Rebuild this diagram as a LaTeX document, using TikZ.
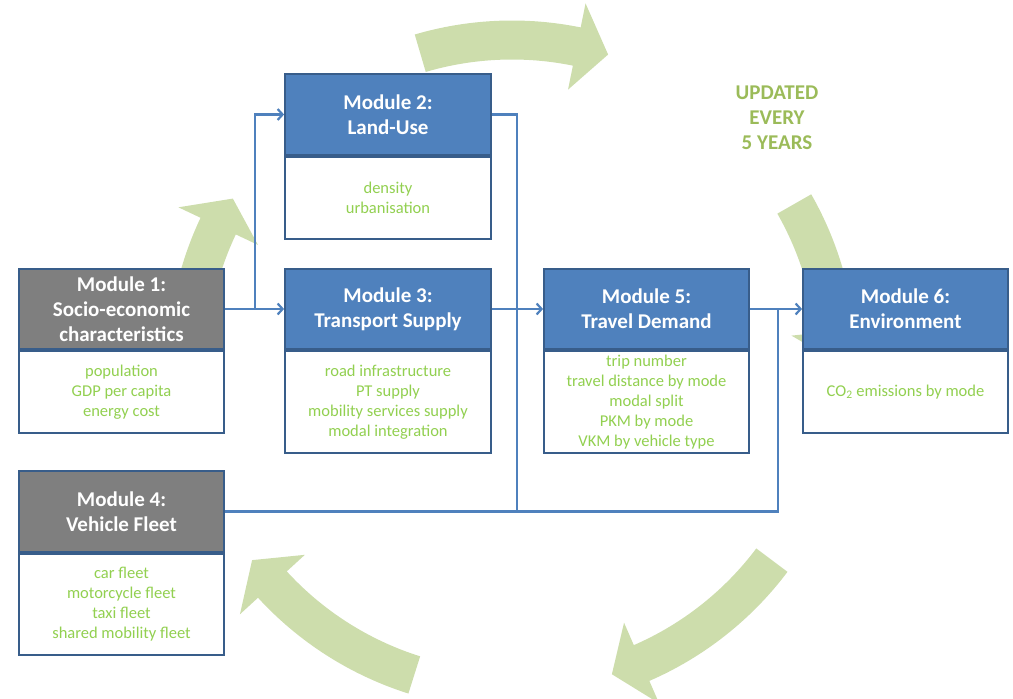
\documentclass[tikz,border=0pt]{standalone}
\usepackage{fontspec}
\setmainfont{Carlito}
\usetikzlibrary{calc,arrows.meta}
\definecolor{hblue}{HTML}{4F81BD}
\definecolor{bord}{HTML}{385D8A}
\definecolor{hgray}{HTML}{7F7F7F}
\definecolor{itemgreen}{HTML}{92D050}
\definecolor{olivetxt}{HTML}{9BBB59}
\definecolor{cycfill}{HTML}{CDDDAC}
\definecolor{linkblue}{HTML}{4F81BD}
\newcommand\cycarr[3]{%
 \fill[cycfill] ($(C)+(#1:344.5pt)$) arc[start angle=#1,end angle=#2,radius=344.5pt]
 -- ($(C)+(#2:369pt)$) -- ($(C)+(#3:325pt)$) -- ($(C)+(#2:281pt)$)
 -- ($(C)+(#2:305.5pt)$) arc[start angle=#2,end angle=#1,radius=305.5pt] -- cycle;}
\begin{document}
\begin{tikzpicture}[x=1pt,y=1pt,
 head/.style={draw=bord, line width=1.8pt, fill=hblue, text=white, minimum width=205pt, minimum height=80pt, inner sep=0pt, align=center, font=\fontsize{21}{25}\selectfont\bfseries},
 grayhead/.style={head, fill=hgray},
 bodybox/.style={draw=bord, line width=1.8pt, fill=white, text=itemgreen, minimum width=205pt, inner sep=0pt, anchor=north, align=center, font=\fontsize{16.5}{20}\selectfont},
 link/.style={draw=linkblue, line width=2.2pt},
 linkarrow/.style={link, -{Straight Barb[length=5pt,width=11pt]}},
 note/.style={text=olivetxt, align=center, font=\fontsize{21}{25}\selectfont\bfseries}
]
\useasboundingbox (0,0) rectangle (1013,699);
\clip (0,0) rectangle (1013,699);
\coordinate (C) at (512,334);
% cycle arrows
\cycarr{106.4}{78.5}{72.8}
\cycarr{29.7}{6}{0.5}
\cycarr{-36.9}{-66.5}{-72.1}
\cycarr{-107.5}{-137.5}{-143.1}
\cycarr{178}{154.7}{149.2}

\node[note] (upd) at (777,581) {UPDATED\\EVERY\\5 YEARS};

% modules
\node[grayhead] (m1h) at (121.5,390) {Module 1:\\Socio-economic\\characteristics};
\node[bodybox, minimum height=82pt] (m1b) at (m1h.south) {population\\GDP per capita\\energy cost};

\node[head, minimum width=206pt, minimum height=81pt] (m2h) at (388,584.5) {Module 2:\\Land-Use};
\node[bodybox, minimum width=206pt, minimum height=82pt] (m2b) at (m2h.south) {density\\urbanisation};

\node[head, minimum width=206pt] (m3h) at (388,390) {Module 3:\\Transport Supply};
\node[bodybox, minimum width=206pt, minimum height=102pt] (m3b) at (m3h.south) {road infrastructure\\PT supply\\mobility services supply\\modal integration};

\node[grayhead, minimum height=81pt] (m4h) at (121.5,187.5) {Module 4:\\Vehicle Fleet};
\node[bodybox, minimum height=101pt] (m4b) at (m4h.south) {car fleet\\motorcycle fleet\\taxi fleet\\shared mobility fleet};

\node[head] (m5h) at (646.5,390) {Module 5:\\Travel Demand};
\node[bodybox, minimum height=102pt] (m5b) at (m5h.south) {trip number\\travel distance by mode\\modal split\\PKM by mode\\VKM by vehicle type};

\node[head] (m6h) at (905.5,390) {Module 6:\\Environment};
\node[bodybox, minimum height=82pt] (m6b) at (m6h.south) {CO\textsubscript{2} emissions by mode};

% connectors
\path (m1h.east) ++(30,0) coordinate (j1);
\coordinate (j2) at (517,187.5);
\coordinate (j3) at (778,187.5);
\coordinate (j4) at (778,390);
\draw[linkarrow] (m1h.east) -- (m3h.west);
\draw[linkarrow] (j1) |- (m2h.west);
\draw[link] (m2h.east) -| (j2);
\draw[link] (m4h.east) -- (j3) -- (j4);
\draw[linkarrow] (m3h.east) -- (m5h.west);
\draw[linkarrow] (m5h.east) -- (m6h.west);
\end{tikzpicture}
\end{document}
